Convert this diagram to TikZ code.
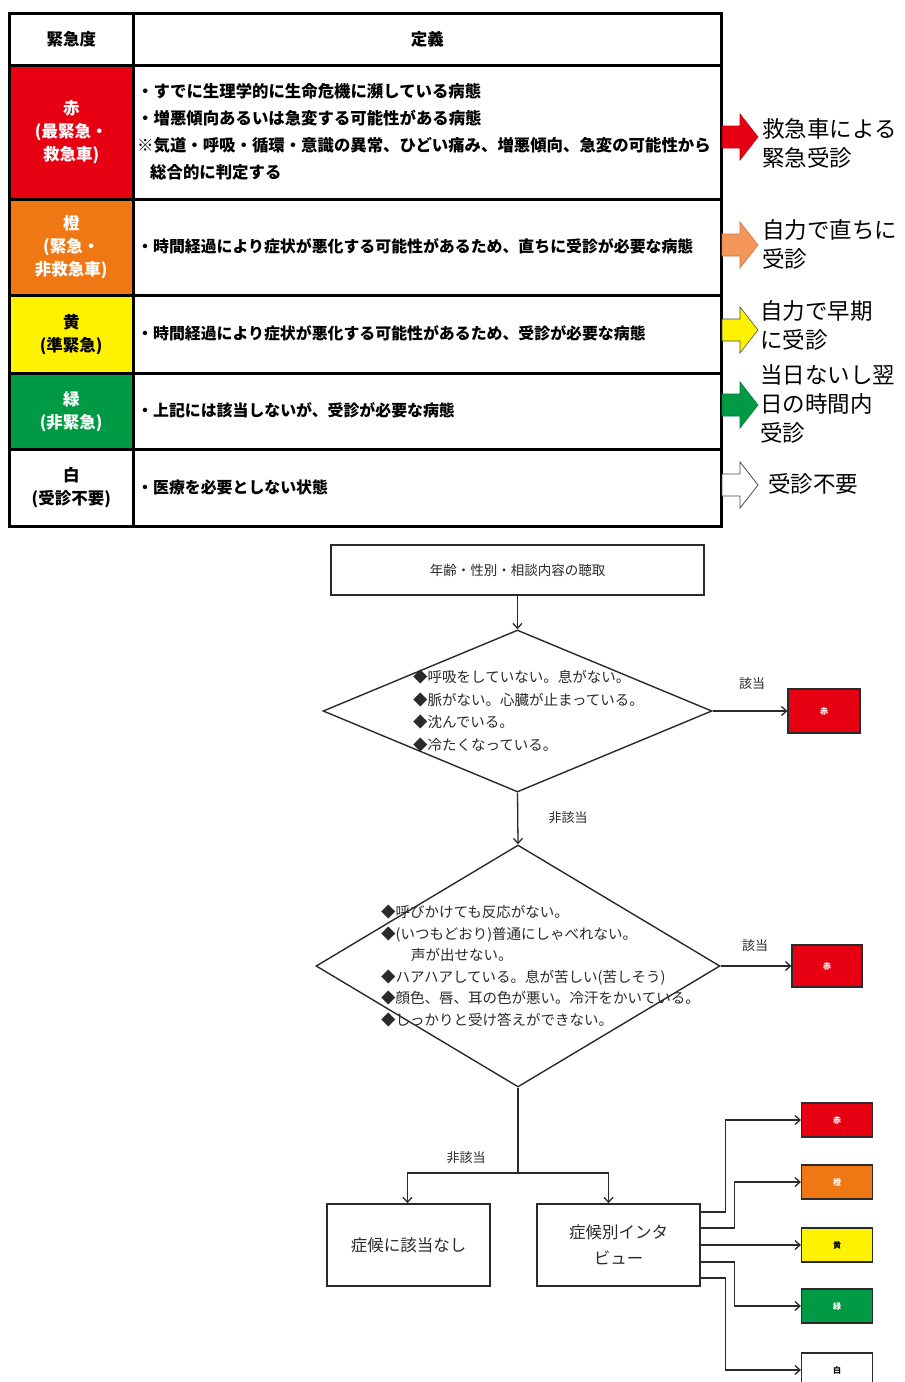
\documentclass[tikz,border=0pt]{standalone}
\usepackage{fontspec}
\setmainfont{Noto Sans CJK JP}
\usetikzlibrary{shapes.geometric,arrows.meta}
\definecolor{tred}{HTML}{E60012}
\definecolor{torange}{HTML}{F07814}
\definecolor{tyellow}{HTML}{FFF200}
\definecolor{tgreen}{HTML}{009A44}
\definecolor{aorange}{HTML}{F4955A}
\definecolor{ink}{HTML}{2A2A2A}
\begin{document}
\begin{tikzpicture}[x=1pt,y=-1pt]
\useasboundingbox (0,0) rectangle (905,1382);
\clip (0,0) rectangle (905,1382);
\tikzset{
 cell/.style={draw, line width=2.5pt, anchor=north west, inner sep=0pt, align=center,
   font=\bfseries\fontsize{16.5}{23}\selectfont},
 deftext/.style={anchor=west, align=left, inner sep=0pt, font=\bfseries\fontsize{15.9}{27}\selectfont},
 rtext/.style={anchor=west, align=left, inner sep=0pt, font=\fontsize{22.5}{29}\selectfont},
 blockarr/.pic={\draw[pic actions] (0,-11) -- (18,-11) -- (18,-23) -- (36,0) -- (18,23) -- (18,11) -- (0,11) -- cycle;},
 fbox/.style={draw=ink, line width=1.4pt, inner sep=0pt, align=center, text=ink},
 dia/.style={diamond, draw=ink, line width=1.4pt, inner sep=0pt, aspect=1},
 dtext/.style={anchor=west, align=left, inner sep=0pt, text=ink},
 lab/.style={inner sep=0pt, text=ink, font=\fontsize{13}{15}\selectfont},
 arr/.style={draw=ink, line width=1.3pt, -{Straight Barb[length=5pt,width=9pt]}},
 ln/.style={draw=ink, line width=1.3pt},
 sbox/.style={draw=ink, line width=1.2pt, minimum width=71pt, minimum height=34pt, inner sep=0pt, font=\bfseries\fontsize{8}{9}\selectfont}
}
% ---------------- table ----------------
\node[cell, minimum width=124pt, minimum height=52pt] (h1) at (8,12) {緊急度};
\node[cell, minimum width=588pt, minimum height=52pt] (h2) at (132,12) {定義};
\node[cell, fill=tred, text=white, minimum width=124pt, minimum height=134pt] (k1) at (8,64) {赤\\(最緊急・\\救急車)};
\node[cell, minimum width=588pt, minimum height=134pt] (v1) at (132,64) {};
\node[cell, fill=torange, text=white, minimum width=124pt, minimum height=96pt] (k2) at (8,198) {橙\\(緊急・\\非救急車)};
\node[cell, minimum width=588pt, minimum height=96pt] (v2) at (132,198) {};
\node[cell, fill=tyellow, text=black, minimum width=124pt, minimum height=78pt] (k3) at (8,294) {黄\\(準緊急)};
\node[cell, minimum width=588pt, minimum height=78pt] (v3) at (132,294) {};
\node[cell, fill=tgreen, text=white, minimum width=124pt, minimum height=76pt] (k4) at (8,372) {緑\\(非緊急)};
\node[cell, minimum width=588pt, minimum height=76pt] (v4) at (132,372) {};
\node[cell, fill=white, text=black, minimum width=124pt, minimum height=77pt] (k5) at (8,448) {白\\(受診不要)};
\node[cell, minimum width=588pt, minimum height=77pt] (v5) at (132,448) {};

\node[deftext, font=\bfseries\fontsize{16.4}{27}\selectfont] (t1) at (137,132) {・すでに生理学的に生命危機に瀕している病態\\・増悪傾向あるいは急変する可能性がある病態\\※気道・呼吸・循環・意識の異常、ひどい痛み、増悪傾向、急変の可能性から\\\hspace*{13pt}総合的に判定する};
\node[deftext] (t2) at (137,246) {・時間経過により症状が悪化する可能性があるため、直ちに受診が必要な病態};
\node[deftext] (t3) at (137,333) {・時間経過により症状が悪化する可能性があるため、受診が必要な病態};
\node[deftext] (t4) at (137,410) {・上記には該当しないが、受診が必要な病態};
\node[deftext] (t5) at (137,487) {・医療を必要としない状態};

% block arrows
\pic[fill=tred, draw=tred!80!black, line width=0.6pt] at (722,137) {blockarr};
\pic[fill=aorange, draw=aorange!80!black, line width=0.6pt] at (722,245) {blockarr};
\pic[fill=yellow, draw=black!70, line width=0.6pt] at (722,330) {blockarr};
\pic[fill=tgreen, draw=tgreen!80!black, line width=0.6pt] at (722,405) {blockarr};
\pic[fill=white, draw=black!70, line width=0.8pt] at (722,485) {blockarr};

\node[rtext] (r1) at (762,143) {救急車による\\緊急受診};
\node[rtext] (r2) at (762,244) {自力で直ちに\\受診};
\node[rtext] (r3) at (760,325) {自力で早期\\に受診};
\node[rtext] (r4) at (760,404) {当日ないし翌\\日の時間内\\受診};
\node[rtext] (r5) at (768,484) {受診不要};

% ---------------- flowchart ----------------
\node[fbox, minimum width=373pt, minimum height=50pt, font=\fontsize{13.5}{16}\selectfont] (st) at (517.5,570) {年齢・性別・相談内容の聴取};
\node[dia, minimum width=389pt, minimum height=162pt] (d1) at (517.5,711) {};
\node[dtext, font=\fontsize{14.5}{22.7}\selectfont] (d1t) at (413,711) {◆呼吸をしていない。息がない。\\◆脈がない。心臓が止まっている。\\◆沈んでいる。\\◆冷たくなっている。};
\node[sbox, fill=tred, text=white, minimum width=72pt, minimum height=44pt] (c0) at (824,711) {赤};
\draw[arr] (st.south) -- (d1.north);
\draw[arr] (d1.east) -- (c0.west);
\node[lab] (l1) at (752,684) {該当};

\node[dia, minimum width=404pt, minimum height=242pt] (d2) at (518,966) {};
\node[dtext, font=\fontsize{14.5}{21.6}\selectfont] (d2t) at (381,966) {◆呼びかけても反応がない。\\◆(いつもどおり)普通にしゃべれない。\\\hspace*{30pt}声が出せない。\\◆ハアハアしている。息が苦しい(苦しそう)\\◆顔色、唇、耳の色が悪い。冷汗をかいている。\\◆しっかりと受け答えができない。};
\node[sbox, fill=tred, text=white, minimum width=70pt, minimum height=42pt] (c00) at (827,966) {赤};
\draw[arr] (d1.south) -- (d2.north);
\node[lab] (l2) at (568,818) {非該当};
\draw[arr] (d2.east) -- (c00.west);
\node[lab] (l3) at (755,946) {該当};

\node[fbox, minimum width=163pt, minimum height=82pt, font=\fontsize{16.5}{26}\selectfont] (n1) at (408.5,1245) {症候に該当なし};
\node[fbox, minimum width=163pt, minimum height=82pt, font=\fontsize{16.5}{26}\selectfont] (n2) at (618.5,1245) {症候別インタ\\ビュー};
\coordinate (j) at (518,1173);
\draw[ln] (d2.south) -- (j);
\draw[arr] (j) -| ([xshift=-1pt]n1.north);
\draw[arr] (j) -| ([xshift=-10pt]n2.north);
\node[lab] (l4) at (466,1158) {非該当};

\node[sbox, fill=tred, text=white] (c1) at (837,1120) {赤};
\node[sbox, fill=torange, text=white] (c2) at (837,1182) {橙};
\node[sbox, fill=tyellow, text=black] (c3) at (837,1245) {黄};
\node[sbox, fill=tgreen, text=white] (c4) at (837,1306) {緑};
\node[sbox, fill=white, text=black] (c5) at (837,1370) {白};

\draw[arr] ([yshift=33pt]n2.east) -- ++(25,0) |- (c1.west);
\draw[arr] ([yshift=17pt]n2.east) -- ++(34,0) |- (c2.west);
\draw[arr] (n2.east) -- (c3.west);
\draw[arr] ([yshift=-17pt]n2.east) -- ++(34,0) |- (c4.west);
\draw[arr] ([yshift=-33pt]n2.east) -- ++(25,0) |- (c5.west);
\end{tikzpicture}
\end{document}
